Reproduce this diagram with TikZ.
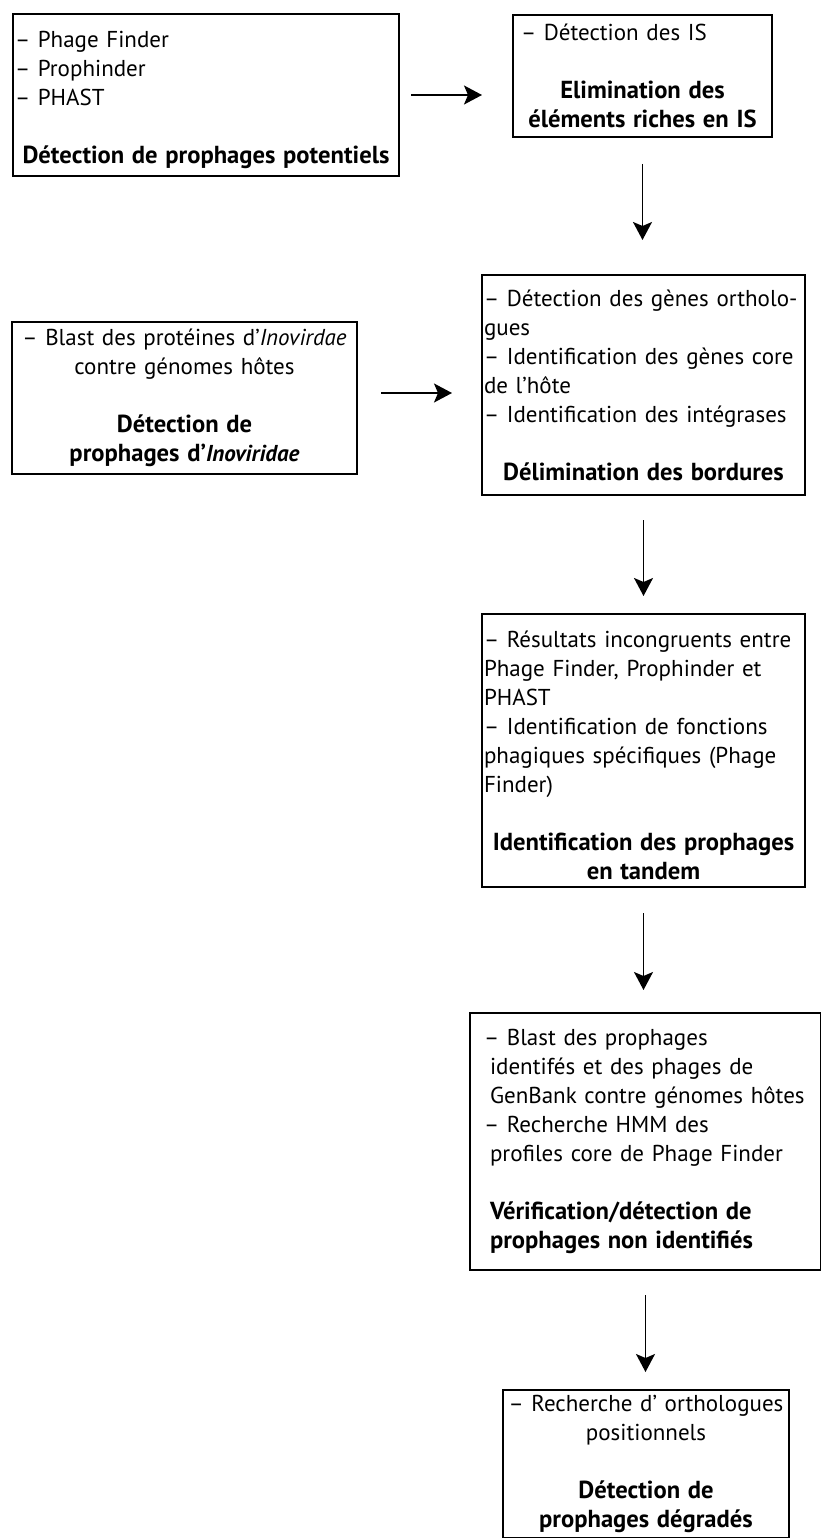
\documentclass[tikz,border=0pt]{standalone}
\usepackage{fontspec}
\setmainfont{PT Sans}[BoldFeatures={Scale=1.07}]
\usetikzlibrary{arrows.meta}
\newcommand{\lft}[1]{\makebox[\hsize][l]{#1}}

\tikzset{
  etape/.style={draw, line width=2pt, inner xsep=2pt, inner ysep=0pt,
    anchor=north west, align=center, font=\fontsize{23}{29}\selectfont},
  fleche/.style={-{Stealth[length=18pt,width=19pt,inset=4pt]}, line width=1.8pt},
}

\begin{document}
\begin{tikzpicture}[x=1pt,y=-1pt]
\useasboundingbox (0,0) rectangle (821,1538);
% boites
\node[etape, minimum width=386pt, minimum height=162pt, text width=382pt] (potentiels) at (12,13)
  {\lft{\rule{0pt}{27pt}– Phage Finder}\\ \lft{– Prophinder}\\ \lft{– PHAST}\\[29pt]
   \textbf{Détection de prophages potentiels}};
\node[etape, minimum width=259pt, minimum height=122pt, text width=255pt] (is) at (512,14)
  {\lft{\hspace*{6pt}– Détection des IS}\\[29pt]
   \textbf{Elimination des}\\ \textbf{éléments riches en IS}};
\node[etape, minimum width=345pt, minimum height=152pt, text width=341pt] (inoviridae) at (11,321)
  {– Blast des protéines d’\textit{Inovirdae}\\ contre génomes hôtes\\[29pt]
   \textbf{Détection de}\\ \textbf{prophages d’\textit{Inoviridae}}};
\node[etape, minimum width=323pt, minimum height=220pt, text width=319pt] (bordures) at (481,274)
  {\lft{– Détection des gènes ortholo-}\\ \lft{gues}\\
   \lft{– Identification des gènes core}\\ \lft{de l’hôte}\\
   \lft{– Identification des intégrases}\\[29pt]
   \textbf{Délimination des bordures}};
\node[etape, minimum width=323pt, minimum height=273pt, text width=319pt] (tandem) at (481,613)
  {\lft{\rule{0pt}{27pt}– Résultats incongruents entre}\\ \lft{Phage Finder, Prophinder et}\\ \lft{PHAST}\\
   \lft{– Identification de fonctions}\\ \lft{phagiques spécifiques (Phage}\\ \lft{Finder)}\\[29pt]
   \textbf{Identification des prophages}\\ \textbf{en tandem}};
\node[etape, minimum width=351pt, minimum height=257pt, text width=347pt] (verification) at (469,1012)
  {\lft{\hspace*{12pt}– Blast des prophages}\\ \lft{\hspace*{18pt}identifés et des phages de}\\
   \lft{\hspace*{18pt}GenBank contre génomes hôtes}\\ \lft{\hspace*{12pt}– Recherche HMM des}\\
   \lft{\hspace*{18pt}profiles core de Phage Finder}\\[29pt]
   \lft{\hspace*{18pt}\textbf{Vérification/détection de}}\\ \lft{\hspace*{18pt}\textbf{prophages non identifiés}}};
\node[etape, minimum width=286pt, minimum height=148pt, text width=282pt] (degrades) at (502,1389)
  {– Recherche d’ orthologues\\ positionnels\\[29pt]
   \textbf{Détection de}\\ \textbf{prophages dégradés}};
% fleches
\draw[fleche, shorten <=11pt, shorten >=30pt] (potentiels.east |- 0,95) -- (is.west |- 0,95);
\draw[fleche, shorten <=26pt, shorten >=34pt] (is.south) -- (is.south |- bordures.north);
\draw[fleche, shorten <=23pt, shorten >=29pt] (inoviridae.east |- 0,393) -- (bordures.west |- 0,393);
\draw[fleche, shorten <=24pt, shorten >=17pt] (bordures.south) -- (bordures.south |- tandem.north);
\draw[fleche, shorten <=25pt, shorten >=22pt] (tandem.south) -- (tandem.south |- verification.north);
\draw[fleche, shorten <=24pt, shorten >=17pt] (verification.south) -- (verification.south |- degrades.north);
\end{tikzpicture}
\end{document}
